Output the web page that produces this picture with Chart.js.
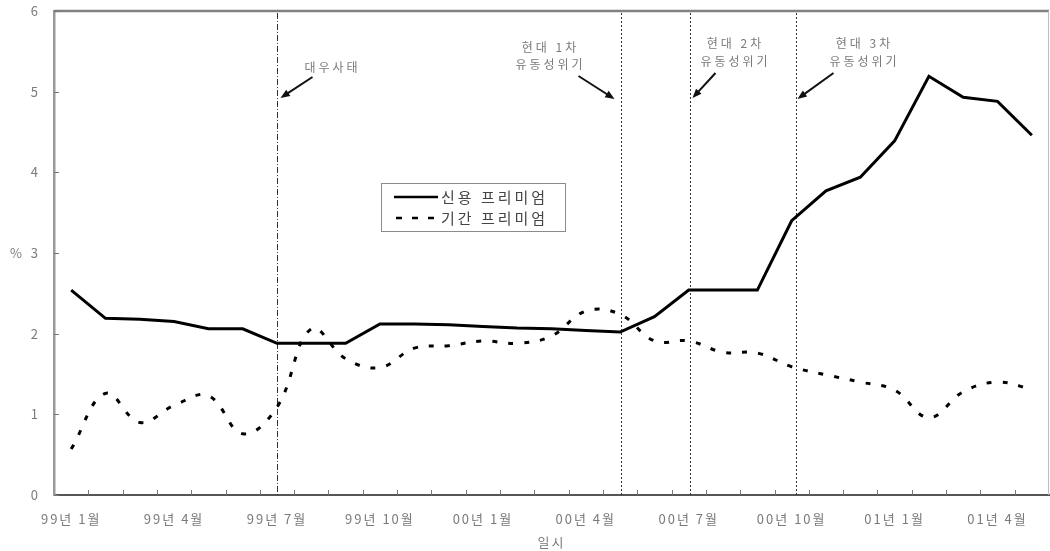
<!DOCTYPE html>
<html lang="ko">
<head>
  <meta charset="UTF-8">
  <title>신용 프리미엄 / 기간 프리미엄</title>
  <script src="https://cdn.jsdelivr.net/npm/chart.js"></script>
  <style>
    html, body { margin: 0; padding: 0; background: #fff; }
    .wrap { width: 1050px; height: 551px; }
  </style>
</head>
<body>
  <div class="wrap"><canvas id="premiumChart"></canvas></div>

  <script>
    // monthly categories, 99.1 ~ 01.5
    const months = [
      '99년 1월', '99년 2월', '99년 3월', '99년 4월', '99년 5월', '99년 6월',
      '99년 7월', '99년 8월', '99년 9월', '99년 10월', '99년 11월', '99년 12월',
      '00년 1월', '00년 2월', '00년 3월', '00년 4월', '00년 5월', '00년 6월',
      '00년 7월', '00년 8월', '00년 9월', '00년 10월', '00년 11월', '00년 12월',
      '01년 1월', '01년 2월', '01년 3월', '01년 4월', '01년 5월'
    ];
    const creditPremium = [
      2.54, 2.19, 2.18, 2.15, 2.06, 2.06, 1.88, 1.88, 1.88, 2.12, 2.12, 2.11,
      2.09, 2.07, 2.06, 2.04, 2.02, 2.21, 2.54, 2.54, 2.54, 3.40, 3.77, 3.94,
      4.39, 5.19, 4.93, 4.88, 4.46
    ];
    const termPremium = [
      0.57, 1.26, 0.90, 1.11, 1.23, 0.76, 1.09, 2.06, 1.69, 1.58, 1.82, 1.85,
      1.91, 1.88, 1.97, 2.28, 2.24, 1.91, 1.91, 1.77, 1.76, 1.59, 1.49, 1.40,
      1.30, 0.96, 1.28, 1.40, 1.31
    ];
    const yTicks = [0, 1, 2, 3, 4, 5, 6];
    const labelEvery = 3;

    // event markers (category index + text)
    const eventIdx = [6, 16, 18, 21];
    const eventText = [['대우사태'], ['현대 1차', '유동성위기'], ['현대 2차', '유동성위기'], ['현대 3차', '유동성위기']];

    const FONT = '"Noto Sans CJK KR", "Noto Sans", sans-serif';
    const GREY = '#7a7a7a';

    // where each note sits relative to its line (pixels)
    const noteStyle = [
      { shift: 0, dash: [6, 2, 1, 2], tx: 55, ty: [67], from: [35, 77], to: [3, 98] },
      { shift: 1, dash: [2, 2], tx: -71, ty: [47, 64], from: [-43, 76], to: [-7, 99] },
      { shift: 1, dash: [2, 2], tx: 45, ty: [43, 61], from: [25, 73], to: [2, 98] },
      { shift: 4, dash: [2, 2], tx: 68, ty: [43, 61], from: [37, 73], to: [1, 99] }
    ];

    function drawArrow(ctx, x1, y1, x2, y2) {
      const a = Math.atan2(y2 - y1, x2 - x1);
      const head = 10;
      ctx.setLineDash([]);
      ctx.lineWidth = 2;
      ctx.beginPath();
      ctx.moveTo(x1, y1);
      ctx.lineTo(x2 - head * 0.7 * Math.cos(a), y2 - head * 0.7 * Math.sin(a));
      ctx.stroke();
      ctx.beginPath();
      ctx.moveTo(x2, y2);
      ctx.lineTo(x2 - head * Math.cos(a - 0.38), y2 - head * Math.sin(a - 0.38));
      ctx.lineTo(x2 - head * Math.cos(a + 0.38), y2 - head * Math.sin(a + 0.38));
      ctx.closePath();
      ctx.fill();
    }

    const extras = {
      id: 'extras',
      beforeDraw(chart) {
        chart.ctx.letterSpacing = '2px';
      },
      beforeDatasetsDraw(chart) {
        const { ctx, chartArea: ca } = chart;
        const xs = chart.scales.x, ys = chart.scales.y;
        ctx.save();
        // frame top / right
        ctx.strokeStyle = '#808080';
        ctx.lineWidth = 2.5;
        ctx.beginPath(); ctx.moveTo(ca.left, ca.top); ctx.lineTo(ca.right, ca.top); ctx.stroke();
        ctx.strokeStyle = '#bdbdbd';
        ctx.lineWidth = 1;
        ctx.beginPath(); ctx.moveTo(ca.right - 0.5, ca.top); ctx.lineTo(ca.right - 0.5, ca.bottom); ctx.stroke();

        // inner tick marks
        ctx.strokeStyle = '#777';
        const step = xs.getPixelForValue(1) - xs.getPixelForValue(0);
        for (let i = 1; i < months.length; i++) {
          const x = Math.round(xs.getPixelForValue(i) - step / 2) + 0.5;
          ctx.beginPath(); ctx.moveTo(x, ca.bottom); ctx.lineTo(x, ca.bottom - 5); ctx.stroke();
        }
        yTicks.forEach(v => {
          const y = Math.round(ys.getPixelForValue(v)) + 0.5;
          ctx.beginPath(); ctx.moveTo(ca.left, y); ctx.lineTo(ca.left + 5, y); ctx.stroke();
        });

        // event lines, notes, arrows
        eventIdx.forEach((idx, k) => {
          const st = noteStyle[k];
          const x = Math.round(xs.getPixelForValue(idx) + st.shift) + 0.5;
          ctx.strokeStyle = '#333';
          ctx.lineWidth = 1;
          ctx.setLineDash(st.dash);
          ctx.beginPath(); ctx.moveTo(x, ca.top + 2); ctx.lineTo(x, ca.bottom); ctx.stroke();

          ctx.fillStyle = GREY;
          ctx.font = '12px ' + FONT;
          ctx.letterSpacing = '3px';
          ctx.textAlign = 'center';
          ctx.textBaseline = 'middle';
          eventText[k].forEach((t, j) => ctx.fillText(t, x + st.tx, st.ty[j]));

          ctx.strokeStyle = '#111';
          ctx.fillStyle = '#111';
          drawArrow(ctx, x + st.from[0], st.from[1], x + st.to[0], st.to[1]);
        });

        // axis titles
        ctx.fillStyle = GREY;
        ctx.font = '13px ' + FONT;
        ctx.letterSpacing = '2px';
        ctx.textAlign = 'center';
        ctx.textBaseline = 'middle';
        ctx.fillText('%', 17, ys.getPixelForValue(3));
        ctx.fillText('일시', (ca.left + ca.right) / 2, 542);

        // legend box
        ctx.strokeStyle = '#8c8c8c';
        ctx.lineWidth = 1;
        ctx.strokeRect(381.5, 183.5, 184, 48);
        ctx.strokeStyle = '#000';
        ctx.lineWidth = 2.5;
        ctx.beginPath(); ctx.moveTo(394, 197); ctx.lineTo(438, 197); ctx.stroke();
        ctx.setLineDash([6, 10]);
        ctx.beginPath(); ctx.moveTo(396, 218); ctx.lineTo(440, 218); ctx.stroke();
        ctx.setLineDash([]);
        ctx.fillStyle = '#444';
        ctx.font = '15px ' + FONT;
        ctx.letterSpacing = '3px';
        ctx.textAlign = 'left';
        ctx.fillText('신용 프리미엄', 441, 197);
        ctx.fillText('기간 프리미엄', 441, 218);
        ctx.restore();
      }
    };

    const ctx = document.getElementById('premiumChart').getContext('2d');
    const premiumChart = new Chart(ctx, {
      type: 'line',
      data: {
        labels: months,
        datasets: [
          {
            label: '신용 프리미엄',
            data: creditPremium,
            borderColor: '#000',
            borderWidth: 3,
            pointRadius: 0,
            tension: 0
          },
          {
            label: '기간 프리미엄',
            data: termPremium,
            borderColor: '#000',
            borderWidth: 3,
            borderDash: [5, 11],
            pointRadius: 0,
            tension: 0.4
          }
        ]
      },
      options: {
        responsive: true,
        maintainAspectRatio: false,
        animation: false,
        layout: { padding: { top: 11, right: 1, left: 0, bottom: 0 } },
        plugins: {
          legend: { display: false },
          tooltip: { enabled: false }
        },
        scales: {
          x: {
            offset: true,
            grid: { display: false },
            border: { color: '#555', width: 2 },
            afterFit(scale) {
              scale.height = 56;
              scale.paddingLeft = 0;
              scale.paddingRight = 0;
            },
            ticks: {
              autoSkip: false,
              maxRotation: 0,
              padding: 8,
              color: GREY,
              font: { size: 13, family: FONT },
              callback: (v, i) => (i % labelEvery === 0 ? months[i] : '')
            }
          },
          y: {
            min: 0,
            max: 6,
            grid: { display: false },
            border: { color: '#999', width: 2.5 },
            afterFit(scale) {
              scale.width = 54;
              scale.paddingTop = 0;
              scale.paddingBottom = 0;
            },
            afterBuildTicks(scale) { scale.ticks = yTicks.map(v => ({ value: v })); },
            ticks: {
              padding: 6,
              color: GREY,
              font: { size: 13, family: FONT }
            }
          }
        }
      },
      plugins: [extras]
    });
  </script>
</body>
</html>
